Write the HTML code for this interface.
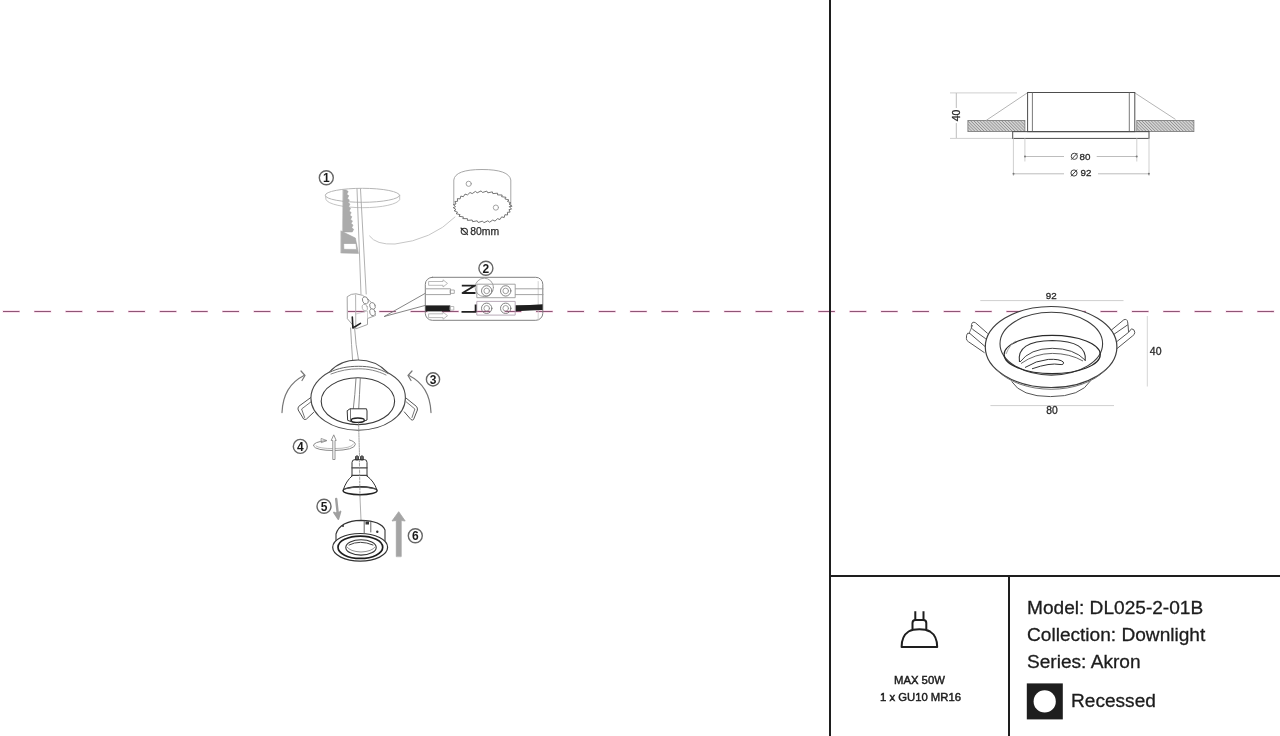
<!DOCTYPE html>
<html><head><meta charset="utf-8">
<style>
html,body{margin:0;padding:0;background:#fff;width:1280px;height:736px;overflow:hidden;position:relative;font-family:"Liberation Sans",sans-serif;}
.ln{position:absolute;background:#1e1e1e;}
.t{position:absolute;white-space:nowrap;color:#1c1c1c;line-height:1;-webkit-text-stroke:0.3px #1c1c1c;will-change:transform;}
svg{position:absolute;left:0;top:0;will-change:transform;}
</style></head><body>
<svg width="1280" height="736" viewBox="0 0 1280 736">
<!-- dashed guide -->
<line x1="2.5" y1="311.5" x2="1280" y2="311.5" stroke="#fbe1ee" stroke-width="3" stroke-dasharray="17.5 13.86"/>
<line x1="3" y1="311.5" x2="1280" y2="311.5" stroke="#8e5576" stroke-width="1.1" stroke-dasharray="16.5 14.86"/>
<!-- ===== Right top: side view ===== -->
<defs>
<pattern id="hatch" patternUnits="userSpaceOnUse" width="2.2" height="3" patternTransform="rotate(-45)">
<rect width="2.2" height="3" fill="#d4d4d4"/>
<line x1="0" y1="0" x2="0" y2="3" stroke="#707070" stroke-width="1"/>
</pattern>
</defs>
<g fill="none" stroke-linecap="butt">
<!-- extension lines for 40 -->
<line x1="950" y1="92.9" x2="1017" y2="92.9" stroke="#cfcfcf" stroke-width="1"/>
<line x1="950" y1="138.4" x2="1013" y2="138.4" stroke="#cfcfcf" stroke-width="1"/>
<line x1="956.3" y1="93" x2="956.3" y2="108" stroke="#bdbdbd" stroke-width="1"/>
<line x1="956.3" y1="123" x2="956.3" y2="138" stroke="#bdbdbd" stroke-width="1"/>
<!-- hatches -->
<rect x="967.9" y="120.4" width="57" height="11.2" fill="url(#hatch)" stroke="#777" stroke-width="0.8"/>
<rect x="1136.8" y="120.4" width="57.1" height="11.2" fill="url(#hatch)" stroke="#777" stroke-width="0.8"/>
<!-- springs -->
<line x1="986.2" y1="120.4" x2="1028.3" y2="92.2" stroke="#b5b5b5" stroke-width="1"/>
<line x1="1134.8" y1="92.9" x2="1175.5" y2="119.4" stroke="#b5b5b5" stroke-width="1"/>
<!-- body -->
<rect x="1027.6" y="92.5" width="107.2" height="39.15" stroke="#4d4d4d" stroke-width="1"/>
<line x1="1032.4" y1="92.5" x2="1032.4" y2="131.6" stroke="#6a6a6a" stroke-width="0.9"/>
<line x1="1129.3" y1="92.5" x2="1129.3" y2="131.6" stroke="#6a6a6a" stroke-width="0.9"/>
<rect x="1012.7" y="131.65" width="136.3" height="6.75" stroke="#4d4d4d" stroke-width="1"/>
<!-- dim 80 -->
<line x1="1024.9" y1="138.4" x2="1024.9" y2="161.5" stroke="#cfcfcf" stroke-width="1"/>
<line x1="1136.8" y1="138.4" x2="1136.8" y2="161.5" stroke="#cfcfcf" stroke-width="1"/>
<line x1="1024.9" y1="156.5" x2="1064" y2="156.5" stroke="#bdbdbd" stroke-width="1"/>
<line x1="1096.7" y1="156.5" x2="1136.8" y2="156.5" stroke="#bdbdbd" stroke-width="1"/>
<!-- dim 92 -->
<line x1="1013.4" y1="138.4" x2="1013.4" y2="176" stroke="#cfcfcf" stroke-width="1"/>
<line x1="1149" y1="138.4" x2="1149" y2="176" stroke="#cfcfcf" stroke-width="1"/>
<line x1="1013.4" y1="173.8" x2="1064" y2="173.8" stroke="#bdbdbd" stroke-width="1"/>
<line x1="1098" y1="173.8" x2="1149" y2="173.8" stroke="#bdbdbd" stroke-width="1"/>
<circle cx="1025" cy="156.5" r="1" fill="#777" stroke="none"/>
<circle cx="1136.7" cy="156.5" r="1" fill="#777" stroke="none"/>
<circle cx="1013.5" cy="173.8" r="1" fill="#777" stroke="none"/>
<circle cx="1148.9" cy="173.8" r="1" fill="#777" stroke="none"/>
<!-- diameter symbols -->
<circle cx="1074.3" cy="156.3" r="3.1" stroke="#444" stroke-width="1"/>
<line x1="1071.3" y1="159.6" x2="1077.4" y2="153" stroke="#444" stroke-width="1"/>
<circle cx="1074" cy="173" r="3.1" stroke="#444" stroke-width="1"/>
<line x1="1071" y1="176.3" x2="1077.1" y2="169.7" stroke="#444" stroke-width="1"/>
</g>
<text x="1079.5" y="159.6" font-family="Liberation Sans" font-size="9.8" fill="#2a2a2a" stroke="#2a2a2a" stroke-width="0.3">80</text>
<text x="1080.5" y="176.4" font-family="Liberation Sans" font-size="9.8" fill="#2a2a2a" stroke="#2a2a2a" stroke-width="0.3">92</text>
<text transform="translate(959.8,115.4) rotate(-90)" text-anchor="middle" font-family="Liberation Sans" font-size="10.5" fill="#2a2a2a" stroke="#2a2a2a" stroke-width="0.3">40</text>

<!-- ===== Right bottom: perspective ===== -->
<g fill="none">
<line x1="980.3" y1="300.6" x2="1123.5" y2="300.6" stroke="#cfcfcf" stroke-width="1"/>
<line x1="990.4" y1="405.6" x2="1114" y2="405.6" stroke="#cfcfcf" stroke-width="1"/>
<line x1="1147.3" y1="316" x2="1147.3" y2="386.5" stroke="#d5d5d5" stroke-width="1"/>
<!-- clips -->
<path d="M987.7 333.5 L975.5 322.8 Q972.3 321 971.5 324.5 L971.3 327 Q971.3 328.3 972.6 329.3 L985.8 338.8" stroke="#555" stroke-width="1"/>
<path d="M985.4 346.8 L970 333.6 Q967.3 331.8 966.6 335.2 L966.4 338.6 Q966.4 340.5 968.4 341.7 L984.6 352.8" stroke="#555" stroke-width="1"/>
<path d="M972.6 325 L969.3 333" stroke="#666" stroke-width="0.9"/>
<path d="M1111.2 330.2 L1123.8 319.8 Q1127 318.5 1127.6 321.8 L1128 324.6 L1112.9 335" stroke="#555" stroke-width="1"/>
<path d="M1128 324.6 L1128.6 332.3 L1116.3 342" stroke="#555" stroke-width="1"/>
<path d="M1128.6 332.3 L1131.5 328.8 Q1134.5 329 1134.8 332.3 Q1134.6 334.8 1132.7 335.8 L1117 348.6" stroke="#555" stroke-width="1"/>
<!-- lower bowl -->
<path d="M1011.7 381.5 Q1021 396.6 1050.5 396.6 Q1081 396.6 1090.5 380.8" stroke="#555" stroke-width="1"/>
<!-- outer flange -->
<ellipse cx="1051.1" cy="347" rx="65.8" ry="40.5" stroke="#3d3d3d" stroke-width="1.2" fill="#fff"/>
<path d="M996.8 370 A63.5 40 0 0 0 1105.4 370" stroke="#666" stroke-width="0.9"/>
<ellipse cx="1051.3" cy="343.7" rx="51.3" ry="31.4" stroke="#3d3d3d" stroke-width="1.1"/>
<!-- inner cup -->
<ellipse cx="1052.2" cy="354.5" rx="48.1" ry="19.1" stroke="#2a2a2a" stroke-width="1.2"/>
<path d="M1006 354 Q1010 344 1016 341" stroke="#888" stroke-width="0.8"/>
<path d="M1019.5 362 Q1016 341 1052.3 340.5 Q1088 341 1085.2 361" stroke="#333" stroke-width="1.1"/>
<path d="M1020 362 Q1030 348.5 1052.3 348.3 Q1074 348.5 1085 360" stroke="#444" stroke-width="1"/>
<path d="M1021 363.5 Q1035 353.5 1052.3 353.4 Q1070 353.5 1083 361" stroke="#555" stroke-width="0.9"/>
<path d="M1025 367.5 Q1036 360.5 1048.3 359.4 Q1060 358.8 1063.3 362 Q1064.5 365 1060 364.5 Q1050 362.5 1032 368.8" stroke="#333" stroke-width="1"/>
</g>
<text x="1051.3" y="298.6" text-anchor="middle" font-family="Liberation Sans" font-size="9.8" fill="#2a2a2a" stroke="#2a2a2a" stroke-width="0.3">92</text>
<text x="1052.1" y="413.6" text-anchor="middle" font-family="Liberation Sans" font-size="10.3" fill="#2a2a2a" stroke="#2a2a2a" stroke-width="0.3">80</text>
<text x="1155.7" y="355.1" text-anchor="middle" font-family="Liberation Sans" font-size="10.5" fill="#2a2a2a" stroke="#2a2a2a" stroke-width="0.3">40</text>
<!-- ===== Left illustration ===== -->
<g fill="none" stroke-linejoin="round" stroke-linecap="round">
<!-- step 1 -->
<circle cx="326.3" cy="177.7" r="7" stroke="#666" stroke-width="1.4"/>
<ellipse cx="362.5" cy="195.3" rx="37.2" ry="7" stroke="#b5b5b5" stroke-width="1"/>
<path d="M325.5 196 L326 199.5 A37 9 0 0 0 399.7 199.5 L399.7 196" stroke="#bdbdbd" stroke-width="0.9"/>
<!-- saw blade -->
<path d="M343.2 190.0 L346.2 190.0 L348.2 191.5 L346.8 194.2 L348.8 195.7 L347.4 198.4 L349.4 199.9 L348.0 202.6 L350.0 204.1 L348.6 206.8 L350.6 208.3 L349.2 211.0 L351.2 212.5 L349.9 215.2 L351.9 216.7 L350.5 219.4 L352.5 220.9 L351.1 223.6 L353.1 225.1 L351.7 227.8 L353.7 229.3 L352.3 232.0 L342.8 232.0 Z" fill="#ababab" stroke="#a0a0a0" stroke-width="0.5"/>
<path d="M341.1 231 L355.4 238 L358.5 253.4 L341.1 253 Z M343.7 243.7 L343.9 249.3 L356.6 249.4 L356 243.7 Z" fill="#ababab" fill-rule="evenodd" stroke="#a0a0a0" stroke-width="0.5"/>
<!-- cable upper -->
<path d="M357 189 L361 294" stroke="#a8a8a8" stroke-width="0.9"/>
<path d="M360.5 189 L366.2 294" stroke="#a8a8a8" stroke-width="0.9"/>
<!-- curve to hole saw -->
<path d="M369.5 236 Q376 245 395 244 Q432 240 455 217" stroke="#c6c6c6" stroke-width="1"/>
<!-- hole saw -->
<path d="M453.8 205 L453.8 180 Q455 169.5 482 169.5 Q509 169.5 510.8 180 L510.8 206" stroke="#9d9d9d" stroke-width="0.9"/>
<path d="M509.5 206.8 L511.5 209.1 L509.0 209.6 L510.1 212.1 L507.4 212.3 L507.6 215.0 L504.9 214.7 L504.2 217.5 L501.6 216.9 L500.0 219.5 L497.5 218.7 L495.0 221.1 L492.8 220.0 L489.6 222.2 L487.8 220.8 L483.9 222.7 L482.5 221.1 L478.2 222.5 L477.2 220.8 L472.6 221.7 L472.2 220.0 L467.4 220.4 L467.5 218.7 L462.8 218.6 L463.4 216.9 L459.0 216.3 L460.1 214.7 L456.0 213.6 L457.6 212.3 L454.1 210.7 L456.0 209.6 L453.2 207.6 L455.5 206.8 L453.5 204.5 L456.0 204.0 L454.9 201.5 L457.6 201.3 L457.4 198.6 L460.1 198.9 L460.8 196.1 L463.4 196.7 L465.0 194.1 L467.5 194.9 L470.0 192.5 L472.2 193.6 L475.4 191.4 L477.2 192.8 L481.1 190.9 L482.5 192.5 L486.8 191.1 L487.8 192.8 L492.4 191.9 L492.8 193.6 L497.6 193.2 L497.5 194.9 L502.2 195.0 L501.6 196.7 L506.0 197.3 L504.9 198.9 L509.0 200.0 L507.4 201.3 L510.9 202.9 L509.0 204.0 L511.8 206.0 Z" stroke="#666" stroke-width="0.9"/>
<circle cx="468.7" cy="183.8" r="2.6" stroke="#999" stroke-width="0.9"/>
<circle cx="495.9" cy="207.6" r="2.6" stroke="#999" stroke-width="0.9"/>
<circle cx="464.3" cy="231.3" r="3.1" stroke="#333" stroke-width="1.1"/>
<line x1="461" y1="228" x2="467.6" y2="234.6" stroke="#333" stroke-width="1.1"/>
</g>
<text x="326.3" y="182.1" text-anchor="middle" font-family="Liberation Sans" font-size="12" font-weight="bold" fill="#1a1a1a">1</text>
<text x="470.3" y="235" font-family="Liberation Sans" font-size="10.4" fill="#2a2a2a" stroke="#2a2a2a" stroke-width="0.25">80mm</text>

<g fill="none" stroke-linejoin="round" stroke-linecap="round">
<!-- connector -->
<path d="M347.5 296.5 Q351 293.5 356 293.8 L362.5 295.3 L368 299.5 L371.5 302.5 L375.5 315.5 L367.5 318.5 L367.5 324.5 L356 328.8 L347.6 319 Z" stroke="#9a9a9a" stroke-width="0.9" fill="none"/>
<path d="M355.6 295 L355.8 328.5" stroke="#aaa" stroke-width="0.9"/>
<path d="M356 314 L367.5 311 L367.5 318.5" stroke="#bbb" stroke-width="0.7"/>
<ellipse cx="365.3" cy="300.3" rx="2.8" ry="3.7" stroke="#888" stroke-width="0.9" fill="#fff" transform="rotate(-20 365.3 300.3)"/>
<ellipse cx="364.8" cy="307.6" rx="2.6" ry="3.4" stroke="#aaa" stroke-width="0.8" fill="#fff" transform="rotate(-20 364.8 307.6)"/>
<ellipse cx="372.5" cy="306" rx="2.7" ry="3.6" stroke="#888" stroke-width="0.9" fill="#fff" transform="rotate(-20 372.5 306)"/>
<ellipse cx="372.5" cy="312.3" rx="2.7" ry="3.6" stroke="#888" stroke-width="0.9" fill="#fff" transform="rotate(-20 372.5 312.3)"/>
<path d="M352.3 317 L352.9 328 L360.5 323.4" stroke="#222" stroke-width="1.6"/>
<!-- cable lower -->
<path d="M350.6 328 Q351.5 345 352.6 360.5" stroke="#9a9a9a" stroke-width="0.9"/>
<path d="M354.6 328 Q355.6 345 358.6 360.5" stroke="#9a9a9a" stroke-width="0.9"/>
<!-- callout -->
<path d="M384.5 316.4 L425 293.5" stroke="#777" stroke-width="0.9"/>
<path d="M384.5 316.4 L425 305.5" stroke="#777" stroke-width="0.9"/>
<!-- wiring box -->
<rect x="425.3" y="277.3" width="117.5" height="43" rx="7" stroke="#808080" stroke-width="1"/>
<path d="M538.2 281.5 L538.2 319" stroke="#c8c8c8" stroke-width="0.8"/>
<circle cx="485.9" cy="268.2" r="7" stroke="#666" stroke-width="1.4"/>
<circle cx="484.3" cy="287.4" r="9.2" stroke="#999" stroke-width="0.9"/>
<rect x="477.2" y="284.2" width="38" height="13.5" stroke="#9a9a9a" stroke-width="0.9"/>
<rect x="477.2" y="301.4" width="38" height="13.7" stroke="#b0a0b0" stroke-width="0.9"/>
<circle cx="486.7" cy="290.9" r="5.2" stroke="#777" stroke-width="0.9"/>
<circle cx="486.7" cy="290.9" r="2.8" stroke="#888" stroke-width="0.8"/>
<circle cx="505.7" cy="290.9" r="5.2" stroke="#777" stroke-width="0.9"/>
<circle cx="505.7" cy="290.9" r="2.8" stroke="#888" stroke-width="0.8"/>
<circle cx="486.7" cy="308.3" r="5.2" stroke="#777" stroke-width="0.9"/>
<circle cx="486.7" cy="308.3" r="2.8" stroke="#888" stroke-width="0.8"/>
<circle cx="505.7" cy="308.3" r="5.2" stroke="#777" stroke-width="0.9"/>
<circle cx="505.7" cy="308.3" r="2.8" stroke="#888" stroke-width="0.8"/>
<!-- wires -->
<path d="M425.5 288.8 L450.5 288.8 L450.5 294.6 L425.5 294.6" stroke="#999" stroke-width="0.9"/>
<rect x="450.5" y="290" width="3.8" height="3.4" stroke="#999" stroke-width="0.8"/>
<rect x="425.5" y="305.4" width="24.8" height="6" fill="#1e1e1e" stroke="none"/>
<rect x="450.3" y="306.5" width="3.5" height="3.6" stroke="#aaa" stroke-width="0.8"/>
<path d="M515.5 288.8 L543 288.8 M515.5 294.6 L543 294.6" stroke="#999" stroke-width="0.9"/>
<path d="M515.7 305.2 L530 305 L542.6 304.3 L542.6 310 L530 310.5 L515.7 311.2 Z" fill="#1e1e1e" stroke="none"/>
<!-- arrows -->
<path d="M429 281.5 L443 281.5 L443 279.8 L447.5 283.4 L443 287 L443 285.3 L429 285.3 Z" stroke="#aaa" stroke-width="0.8"/>
<path d="M429 313.8 L443 313.8 L443 312.1 L447.5 315.7 L443 319.3 L443 317.6 L429 317.6 Z" stroke="#aaa" stroke-width="0.8"/>
<!-- N and L rotated -->
<path d="M461.8 285.6 L475 285.6 L462.5 293 L475.5 293" stroke="#222" stroke-width="1.8" stroke-linecap="butt"/>
<path d="M475.6 304.6 L475.6 311.8 L461.5 311.8" stroke="#222" stroke-width="1.8" stroke-linecap="butt"/>
</g>
<text x="485.9" y="272.5" text-anchor="middle" font-family="Liberation Sans" font-size="12" font-weight="bold" fill="#1a1a1a">2</text>
<g fill="none" stroke-linejoin="round" stroke-linecap="round">
<!-- step 3 ring -->

<!-- clips -->
<path d="M311.5 397 L298.8 406.3 Q297.5 408 298.2 410 L303.6 419 Q305 420 306.5 419 L313.6 412.4" stroke="#555" stroke-width="1" fill="#fff"/>
<path d="M310.8 402 L301.6 409 L304.6 417.5" stroke="#666" stroke-width="0.9"/>
<path d="M405.7 397.8 L416.3 406.3 Q417.8 408 417.4 410 L413.5 419.6 Q412.5 420.5 411 419.6 L404.3 411.9" stroke="#555" stroke-width="1" fill="#fff"/>
<path d="M406.4 402 L414.9 409 L412 417.5" stroke="#666" stroke-width="0.9"/>
<path d="M310.9 398 C310.9 416 332 430.2 358.15 430.2 C384.3 430.2 405.4 416 405.4 398 C405.4 387 398 378 387.5 372.5 C380 364.5 370 360 358 360 C346 360 336 364.5 329.5 372 C319 377.5 310.9 387 310.9 398 Z" stroke="#4a4a4a" stroke-width="1.1" fill="#fff"/>
<path d="M329.5 372.4 C338 368 348 366.3 358.7 366.3 C369 366.3 379 368 388 373.5" stroke="#666" stroke-width="1"/>
<path d="M331 374 C340 370.5 349 368.8 358.7 368.8 C368 368.8 377 370.5 386 375" stroke="#777" stroke-width="0.9"/>
<ellipse cx="357.9" cy="401.2" rx="36.7" ry="23.4" stroke="#3a3a3a" stroke-width="1.1"/>
<!-- cable in ring -->
<path d="M356 378.4 Q355 395 353.3 408.8" stroke="#777" stroke-width="0.9"/>
<path d="M360.3 378.4 Q359.5 395 358.7 408.8" stroke="#777" stroke-width="0.9"/>
<!-- socket -->
<path d="M347.5 410.5 L350 408.8 L366.5 408.8 L367 411 L367 420 Q357 425 348 420.5 Z" stroke="#333" stroke-width="1" fill="#fff"/>
<path d="M350.5 409 L350.5 421" stroke="#555" stroke-width="0.8"/>
<ellipse cx="357.8" cy="420.2" rx="6.5" ry="2.2" stroke="#222" stroke-width="1.3"/>
<!-- arrows 3 -->
<path d="M282 412.6 Q283 386 304 375.5" stroke="#777" stroke-width="1.2"/>
<path d="M301 371 L305 375.5 L302 380.5" stroke="#777" stroke-width="1.2"/>
<path d="M431 412.6 Q430 386 409 375.5" stroke="#777" stroke-width="1.2"/>
<path d="M412 371 L408 375.5 L411 380.5" stroke="#777" stroke-width="1.2"/>
<circle cx="433" cy="379.4" r="6.6" stroke="#666" stroke-width="1.4"/>
<!-- center dashed line -->
<path d="M358.6 423 L359.5 456" stroke="#888" stroke-width="0.8" stroke-dasharray="1.5 1"/>
<path d="M359.9 495 L361 520" stroke="#999" stroke-width="0.8"/>
<!-- step 4 -->
<circle cx="300.3" cy="446.4" r="7" stroke="#666" stroke-width="1.4"/>
<path d="M326 440.6 Q313 442 313.5 446 Q316 450.5 334 450.5 Q354.5 450 355.3 444.5 Q355.3 441.5 349.5 440" stroke="#888" stroke-width="1"/>
<path d="M316 446 Q319 448.6 334 448.6 Q352 448.4 353.5 444" stroke="#aaa" stroke-width="0.8"/>
<path d="M321.5 438.6 L327 440.6 L321.5 442.6 Z" stroke="#888" stroke-width="0.8"/>
<path d="M333.9 435.2 L336.2 440.5 L335 440.5 L335 459.5 L332.8 459.5 L332.8 440.5 L331.6 440.5 Z" stroke="#888" stroke-width="0.9" fill="#fff"/>
<!-- bulb -->
<path d="M355.5 459.6 L355.5 456.5 Q357 455 358.5 456.5 L358.5 459.6 Z M360.5 459.6 L360.5 456.5 Q362 455 363.3 456.5 L363.3 459.6 Z" fill="#666" stroke="#444" stroke-width="1"/>
<path d="M352 476 L352 462.5 Q352 459.6 355 459.6 L364.5 459.6 Q367 459.6 367 462.5 L367 476" stroke="#333" stroke-width="1"/>
<path d="M352 467.8 L367 467.8 M352 475.4 L367 475.4" stroke="#444" stroke-width="1.2"/>
<path d="M352 476 Q346 481 343.2 490 M367 476 Q374 481 377 490" stroke="#333" stroke-width="1"/>
<ellipse cx="360.1" cy="490.7" rx="17" ry="4" stroke="#222" stroke-width="1.4" fill="#fff"/>
<path d="M344.5 489 Q360 485.2 375.5 489" stroke="#555" stroke-width="1"/>
<path d="M359.4 460 L360 496" stroke="#888" stroke-width="0.8" stroke-dasharray="2 1.5"/>
<!-- step 5 -->
<circle cx="324" cy="506.3" r="7" stroke="#666" stroke-width="1.4"/>
<path d="M336.2 499 L337.8 514" stroke="#a0a0a0" stroke-width="2.4"/>
<path d="M334 512.5 L338.3 519 L340.5 511.5" stroke="#a0a0a0" stroke-width="1.8" fill="#a0a0a0"/>
<!-- step 6 -->
<circle cx="415.3" cy="535.7" r="7" stroke="#666" stroke-width="1.4"/>
<path d="M396.3 556.3 L396.3 520.5 L392 521 L398.7 511.7 L405.2 521 L401.2 520.5 L401.2 556.3 Z" fill="#a5a5a5" stroke="#a5a5a5" stroke-width="0.8"/>
<!-- ring 5/6 -->
<path d="M336 541 L336 534 Q340 521 361 520.4 Q381.5 521 385 530 L385 541" stroke="#333" stroke-width="1.1" fill="#fff"/>
<ellipse cx="360.15" cy="547.35" rx="27.45" ry="13.85" stroke="#333" stroke-width="1.2" fill="#fff"/>
<ellipse cx="360.35" cy="547.25" rx="22.35" ry="11.2" stroke="#1e1e1e" stroke-width="1.7"/>
<ellipse cx="361" cy="547.4" rx="15.2" ry="7.7" stroke="#333" stroke-width="1.1"/>
<path d="M349 545 Q360 539.5 373 545" stroke="#444" stroke-width="1"/>
<path d="M347 547 Q350 551.5 361 552 Q372 551.5 375 547" stroke="#777" stroke-width="0.8"/>
<path d="M364.2 521 L364.2 533.5 M370.8 522 L370.8 532" stroke="#555" stroke-width="0.9"/>
<rect x="365.5" y="521.5" width="3.5" height="3" fill="#333" stroke="none"/>
<circle cx="343" cy="526" r="1" fill="#333" stroke="none"/>
<circle cx="377.3" cy="531.8" r="1.2" fill="#333" stroke="none"/>
</g>
<text x="433" y="383.8" text-anchor="middle" font-family="Liberation Sans" font-size="12" font-weight="bold" fill="#1a1a1a">3</text>
<text x="300.3" y="450.8" text-anchor="middle" font-family="Liberation Sans" font-size="12" font-weight="bold" fill="#1a1a1a">4</text>
<text x="324" y="510.7" text-anchor="middle" font-family="Liberation Sans" font-size="12" font-weight="bold" fill="#1a1a1a">5</text>
<text x="415.3" y="540.1" text-anchor="middle" font-family="Liberation Sans" font-size="12" font-weight="bold" fill="#1a1a1a">6</text>
<!-- bulb icon -->
<g fill="none" stroke="#1e1e1e" stroke-width="2" stroke-linejoin="round">
<path d="M915.3 611.2 L915.3 620 M923.5 611.2 L923.5 620"/>
<path d="M912.5 629.5 L912.5 623 Q912.5 620 915.5 620 L923.3 620 Q926.3 620 926.3 623 L926.3 629.5"/>
<path d="M901.6 647 L937.2 647 Q937.2 636 930 631.5 Q926 629.3 919.4 629.3 Q912.5 629.3 908.6 631.5 Q901.6 636 901.6 647 Z"/>
</g>
<!-- recessed icon -->
<rect x="1026.8" y="683.4" width="36" height="36" fill="#1e1e1e"/>
<circle cx="1044.7" cy="701.4" r="11.1" fill="#fff"/>

</svg>
<div class="ln" style="left:829px;top:0;width:2px;height:736px"></div>
<div class="ln" style="left:829px;top:575px;width:451px;height:2px"></div>
<div class="ln" style="left:1008px;top:575px;width:2px;height:161px"></div>

<div class="t" style="left:1026.5px;top:598px;font-size:19.1px">Model: DL025-2-01B</div>
<div class="t" style="left:1026.5px;top:625px;font-size:19.1px">Collection: Downlight</div>
<div class="t" style="left:1026.5px;top:652px;font-size:19.1px">Series: Akron</div>
<div class="t" style="left:1071px;top:691.2px;font-size:19.1px">Recessed</div>
<div class="t" style="left:893.5px;top:674.5px;font-size:11.3px;-webkit-text-stroke:0.45px #1c1c1c">MAX 50W</div>
<div class="t" style="left:879.5px;top:691.5px;font-size:11.3px;-webkit-text-stroke:0.45px #1c1c1c">1 x GU10 MR16</div>
</body></html>
